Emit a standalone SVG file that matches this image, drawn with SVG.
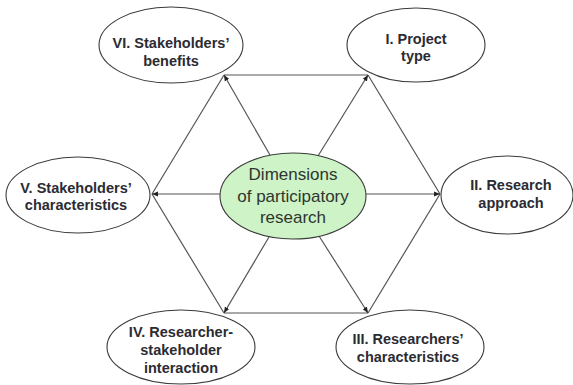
<svg xmlns="http://www.w3.org/2000/svg" width="573" height="385" viewBox="0 0 573 385">
<style>
.node ellipse{fill:#ffffff;stroke:#3a3a3a;stroke-width:1.1}
.node text{font-family:"Liberation Sans",Arial,sans-serif;font-weight:bold;font-size:14.5px;fill:#2b2b33;text-anchor:middle}
#center ellipse{fill:#cdf3c6;stroke:#3a3a3a;stroke-width:1.1}
#center text{font-family:"Liberation Sans",Arial,sans-serif;font-size:17px;fill:#2f3530;text-anchor:middle}
.edge{stroke:#555555;stroke-width:1.2;fill:none}
.spoke{stroke:#555555;stroke-width:1.2;fill:none;marker-end:url(#arr)}
</style>
<defs>
<marker id="arr" markerUnits="userSpaceOnUse" markerWidth="7" markerHeight="6" refX="6" refY="3" orient="auto">
<path d="M0,0.5 L6,3 L0,5.5 z" fill="#222222"/>
</marker>
</defs>
<rect width="573" height="385" fill="#ffffff"/>
<g id="connectors">
<line class="edge" x1="224" y1="75" x2="368" y2="75"/>
<line class="edge" x1="368" y1="75" x2="440" y2="194"/>
<line class="edge" x1="440" y1="194" x2="368" y2="313"/>
<line class="edge" x1="368" y1="313" x2="224" y2="313"/>
<line class="edge" x1="224" y1="313" x2="152" y2="194"/>
<line class="edge" x1="152" y1="194" x2="224" y2="75"/>
<line class="spoke" x1="270" y1="155" x2="224" y2="75"/>
<line class="spoke" x1="318" y1="156" x2="368" y2="75"/>
<line class="spoke" x1="366" y1="194" x2="440" y2="194"/>
<line class="spoke" x1="319" y1="236" x2="368" y2="313"/>
<line class="spoke" x1="269" y1="237" x2="224" y2="313"/>
<line class="spoke" x1="220" y1="194" x2="152" y2="194"/>
</g>
<g id="center">
<ellipse cx="293" cy="196" rx="73" ry="43"/>
<text x="293" y="180">Dimensions</text>
<text x="293" y="202">of participatory</text>
<text x="293" y="223">research</text>
</g>
<g id="n1" class="node">
<ellipse cx="416" cy="45" rx="69" ry="37"/>
<text x="416" y="44">I. Project</text>
<text x="416" y="61">type</text>
</g>
<g id="n2" class="node">
<ellipse cx="507" cy="195" rx="66" ry="39"/>
<text x="511" y="190">II. Research</text>
<text x="511" y="208">approach</text>
</g>
<g id="n3" class="node">
<ellipse cx="410" cy="347" rx="74" ry="37"/>
<text x="408" y="344">III. Researchers’</text>
<text x="408" y="362">characteristics</text>
</g>
<g id="n4" class="node">
<ellipse cx="181" cy="347" rx="74" ry="37"/>
<text x="181" y="337">IV. Researcher-</text>
<text x="181" y="355">stakeholder</text>
<text x="181" y="373">interaction</text>
</g>
<g id="n5" class="node">
<ellipse cx="78" cy="195" rx="72" ry="38"/>
<text x="76" y="193">V. Stakeholders’</text>
<text x="76" y="210">characteristics</text>
</g>
<g id="n6" class="node">
<ellipse cx="171" cy="45" rx="72" ry="38"/>
<text x="171" y="48">VI. Stakeholders’</text>
<text x="171" y="66">benefits</text>
</g>
</svg>
